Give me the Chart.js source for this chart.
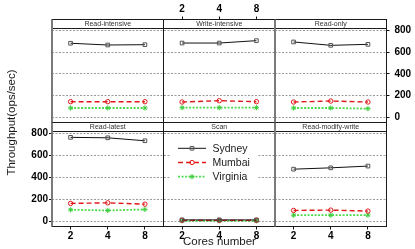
<!DOCTYPE html>
<html><head><meta charset="utf-8">
<script src="https://cdn.jsdelivr.net/npm/chart.js@4.4.1/dist/chart.umd.min.js"></script>
<style>
html,body{margin:0;padding:0;background:#fff;}
#wrap{position:relative;width:415px;height:249px;overflow:hidden;background:#fff;}
canvas{position:absolute;left:0;top:0;}
</style></head><body>
<div id="wrap">
<canvas id="c0" width="415" height="249"></canvas>
<canvas id="c1" width="415" height="249"></canvas>
<canvas id="c2" width="415" height="249"></canvas>
<canvas id="c3" width="415" height="249"></canvas>
<canvas id="c4" width="415" height="249"></canvas>
<canvas id="c5" width="415" height="249"></canvas>
</div>
<script>
// ---------------- data ----------------
const workloads = ['Read-intensive','Write-intensive','Read-only','Read-latest','Scan','Read-modify-write'];
const cores = [2, 4, 8];
const yTickValues = [0, 200, 400, 600, 800];
const seriesNames = ['Sydney', 'Mumbai', 'Virginia'];
const sydney   = [[681,665,668],[683,683,705],[693,662,671],[764,760,733],[14,14,14],[475,487,503]];
const mumbai   = [[145,145,145],[142,154,145],[142,151,142],[164,169,157],[10,10,10],[100,103,94]];
const virginia = [[87,87,87],[90,90,90],[87,87,81],[106,100,109],[6,6,6],[57,57,57]];
const xTitle = 'Cores number';
const yTitle = 'Throughput(ops/sec)';

// ---------------- layout / style ----------------
const FONT = "'Liberation Sans', Arial, Helvetica, sans-serif";
const W = 415, H = 249;
const colL = [52, 163.5, 275], colR = [163.5, 275, 386.5];
const rowT = [19.5, 122.5], rowB = [122.5, 226.5];
const STRIP = 9;
const Y_MIN = -46, Y_MAX = 899;
const X_MIN = Math.SQRT2, X_MAX = 8 * Math.SQRT2;

const styles = [
  {color:'#111111', pointColor:'#555555', dash:[], width:1, pointStyle:'rect', radius:2.6},
  {color:'#e01818', pointColor:'#e01818', dash:[5,3], width:1.4, pointStyle:'circle', radius:2.2},
  {color:'#4edc4e', pointColor:'#3ccc3c', dash:[2,1.5], width:1.8, pointStyle:'star', radius:2.6}
];
const allSeries = [sydney, mumbai, virginia];

function drawMarker(ctx, style, x, y, r, color){
  ctx.save();
  ctx.setLineDash([]);
  ctx.strokeStyle = color; ctx.lineWidth = 1;
  ctx.beginPath();
  if (style === 'rect') {
    const s = r * Math.SQRT1_2;
    ctx.rect(x - s, y - s, 2*s, 2*s);
  } else if (style === 'circle') {
    ctx.arc(x, y, r, 0, Math.PI*2);
  } else {
    ctx.moveTo(x - r, y); ctx.lineTo(x + r, y);
    ctx.moveTo(x, y - r); ctx.lineTo(x, y + r);
    const d = r * Math.SQRT1_2;
    ctx.moveTo(x - d, y - d); ctx.lineTo(x + d, y + d);
    ctx.moveTo(x - d, y + d); ctx.lineTo(x + d, y - d);
  }
  ctx.stroke();
  ctx.restore();
}

const framePlugin = {
  id: 'frame',
  afterDraw(chart, args, opts){
    const ctx = chart.ctx, a = chart.chartArea;
    ctx.save();
    ctx.fillStyle = '#ffffff';
    ctx.fillRect(a.left, a.top, a.right - a.left, STRIP);
    ctx.strokeStyle = '#1a1a1a'; ctx.lineWidth = 1; ctx.setLineDash([]);
    ctx.strokeRect(a.left, a.top, a.right - a.left, a.bottom - a.top);
    ctx.beginPath();
    ctx.moveTo(a.left, a.top + STRIP); ctx.lineTo(a.right, a.top + STRIP);
    ctx.stroke();
    if (opts.thickLeft) {
      ctx.strokeStyle = '#7a7a7a'; ctx.lineWidth = 2;
      ctx.beginPath(); ctx.moveTo(a.left, a.top); ctx.lineTo(a.left, a.bottom); ctx.stroke();
    }
    ctx.fillStyle = '#333333';
    ctx.font = '7px ' + FONT;
    ctx.textAlign = 'center'; ctx.textBaseline = 'middle';
    ctx.fillText(opts.title, (a.left + a.right)/2, a.top + STRIP/2 + 0.5);
    ctx.restore();
  }
};

const legendPlugin = {
  id: 'panelLegend',
  beforeDatasetsDraw(chart, args, opts){
    if (!opts.show) return;
    const ctx = chart.ctx;
    ctx.save();
    ctx.fillStyle = '#ffffff';
    ctx.fillRect(opts.boxL, opts.boxT, opts.boxR - opts.boxL, opts.boxB - opts.boxT);
    ctx.restore();
  },
  afterDraw(chart, args, opts){
    if (!opts.show) return;
    const ctx = chart.ctx;
    chart.data.datasets.forEach((ds, k) => {
      const y = opts.y0 + k * opts.dy;
      ctx.save();
      ctx.strokeStyle = ds.borderColor; ctx.lineWidth = ds.borderWidth;
      ctx.setLineDash(ds.borderDash);
      ctx.beginPath(); ctx.moveTo(opts.x0, y); ctx.lineTo(opts.x1, y); ctx.stroke();
      drawMarker(ctx, ds.pointStyle, (opts.x0 + opts.x1)/2, y, ds.pointRadius, ds.pointBorderColor);
      ctx.fillStyle = '#1a1a1a';
      ctx.font = '10.5px ' + FONT;
      ctx.textAlign = 'left'; ctx.textBaseline = 'middle';
      ctx.fillText(ds.label, opts.tx, y + 0.5);
      ctx.restore();
    });
  }
};

const titlesPlugin = {
  id: 'outerTitles',
  afterDraw(chart, args, opts){
    if (!opts.show) return;
    const ctx = chart.ctx;
    ctx.save();
    ctx.fillStyle = '#1a1a1a';
    ctx.font = '11.5px ' + FONT;
    ctx.textAlign = 'center'; ctx.textBaseline = 'middle';
    ctx.fillText(xTitle, opts.xTitleX, opts.xTitleY);
    ctx.translate(opts.yTitleX, opts.yTitleY);
    ctx.rotate(-Math.PI/2);
    ctx.fillText(yTitle, 0, 0);
    ctx.restore();
  }
};

workloads.forEach((name, i) => {
  const r = Math.floor(i / 3), c = i % 3;
  const xPos = (r === 0 && c === 1) ? 'top' : 'bottom';
  const showX = r === 1 || (r === 0 && c === 1);
  const xSize = showX ? (xPos === 'top' ? 17 : 18) : 0;
  const yPos = (r === 0 && c === 2) ? 'right' : 'left';
  const showY = (r === 0 && c === 2) || (r === 1 && c === 0);
  const ySize = showY ? (yPos === 'right' ? 28 : 40) : 0;

  const padding = {
    left: colL[c] - (yPos === 'left' ? ySize : 0),
    right: W - colR[c] - (yPos === 'right' ? ySize : 0),
    top: rowT[r] - (xPos === 'top' ? xSize : 0),
    bottom: H - rowB[r] - (xPos === 'bottom' ? xSize : 0)
  };

  const datasets = allSeries.map((s, k) => ({
    label: seriesNames[k],
    data: cores.map((cv, j) => ({x: cv, y: s[i][j]})),
    borderColor: styles[k].color,
    borderWidth: styles[k].width,
    borderDash: styles[k].dash,
    pointStyle: styles[k].pointStyle,
    pointRadius: styles[k].radius,
    pointBorderColor: styles[k].pointColor,
    pointBackgroundColor: 'rgba(0,0,0,0)',
    pointBorderWidth: 1,
    tension: 0,
    fill: false,
    clip: false
  }));

  new Chart(document.getElementById('c' + i), {
    type: 'line',
    data: { datasets },
    options: {
      responsive: false,
      devicePixelRatio: 1,
      animation: false,
      events: [],
      layout: { padding },
      scales: {
        x: {
          type: 'logarithmic',
          position: xPos,
          min: X_MIN, max: X_MAX,
          afterBuildTicks: (sc) => { sc.ticks = cores.map(v => ({value: v})); },
          afterFit: (sc) => { sc.height = xSize; },
          grid: { display: showX, drawOnChartArea: false, drawTicks: true, tickLength: 3, tickColor: '#111', tickWidth: 1 },
          border: { display: false },
          ticks: {
            display: showX, autoSkip: false, maxRotation: 0, padding: 1,
            color: '#000', font: { family: FONT, size: 10, weight: 'bold' },
            callback: (v) => String(v)
          }
        },
        y: {
          type: 'linear',
          position: yPos,
          min: Y_MIN, max: Y_MAX,
          afterBuildTicks: (sc) => { sc.ticks = yTickValues.map(v => ({value: v})); },
          afterFit: (sc) => { sc.width = ySize; },
          grid: { display: true, drawOnChartArea: true, drawTicks: showY, tickLength: 3, color: '#9a9a9a', lineWidth: 1, tickColor: '#111', tickWidth: 1 },
          border: { display: false, dash: [2, 1.5] },
          ticks: {
            display: showY, padding: yPos === 'right' ? 5 : 1,
            color: '#000', font: { family: FONT, size: 10, weight: 'bold' },
            callback: (v) => String(v)
          }
        }
      },
      plugins: {
        legend: { display: false },
        tooltip: { enabled: false },
        frame: { title: name, thickLeft: c !== 1 },
        panelLegend: (i === 4)
          ? { show: true, boxL: 171, boxR: 257, boxT: 140, boxB: 185, x0: 178, x1: 206, tx: 212.5, y0: 148.3, dy: 14.2 }
          : { show: false },
        outerTitles: (i === 4)
          ? { show: true, xTitleX: 219.5, xTitleY: 241.5, yTitleX: 12, yTitleY: 122.5 }
          : { show: false }
      }
    },
    plugins: [framePlugin, legendPlugin, titlesPlugin]
  });
});
</script>
</body></html>
